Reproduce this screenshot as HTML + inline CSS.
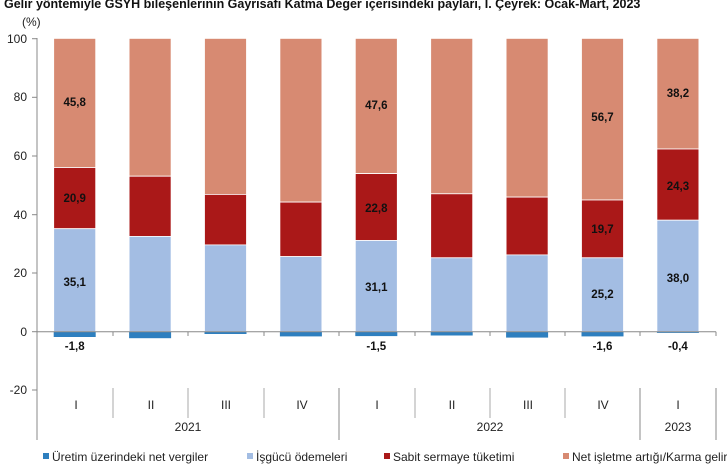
<!DOCTYPE html>
<html><head><meta charset="utf-8"><style>
html,body{margin:0;padding:0;background:#fff;width:727px;height:464px;overflow:hidden}
text{font-family:"Liberation Sans",Arial,sans-serif}
</style></head><body>
<svg width="727" height="464" viewBox="0 0 727 464" xmlns="http://www.w3.org/2000/svg">
<text x="4" y="8" font-size="12.5" font-weight="bold" fill="#111">Gelir yöntemiyle GSYH bileşenlerinin Gayrisafi Katma Değer içerisindeki payları, I. Çeyrek: Ocak-Mart, 2023</text>
<text x="22" y="26" font-size="12" fill="#222">(%)</text>
<g font-size="12" fill="#222" text-anchor="end">
<text x="27" y="43">100</text><text x="27" y="101">80</text><text x="27" y="160">60</text>
<text x="27" y="219">40</text><text x="27" y="277">20</text><text x="27" y="336">0</text><text x="27" y="394">-20</text>
</g>
<g stroke="#888" stroke-width="1">
<line x1="37" y1="38" x2="37" y2="440"/>
<line x1="32" y1="38.7" x2="37" y2="38.7"/><line x1="32" y1="97.3" x2="37" y2="97.3"/>
<line x1="32" y1="156" x2="37" y2="156"/><line x1="32" y1="214.7" x2="37" y2="214.7"/>
<line x1="32" y1="273" x2="37" y2="273"/><line x1="32" y1="331.7" x2="37" y2="331.7"/>
<line x1="32" y1="390" x2="37" y2="390"/>
<line x1="113" y1="388" x2="113" y2="418" stroke="#aaa"/><line x1="188" y1="388" x2="188" y2="418" stroke="#aaa"/>
<line x1="264" y1="388" x2="264" y2="418" stroke="#aaa"/><line x1="415" y1="388" x2="415" y2="418" stroke="#aaa"/>
<line x1="490" y1="388" x2="490" y2="418" stroke="#aaa"/><line x1="565" y1="388" x2="565" y2="418" stroke="#aaa"/>
<line x1="339" y1="388" x2="339" y2="440"/><line x1="640" y1="388" x2="640" y2="440"/>
<line x1="716" y1="388" x2="716" y2="440"/>
</g>
<g stroke="#fff" stroke-width="0.8">
<!-- bar1 -->
<rect x="53.7" y="38.4" width="42" height="129.1" fill="#D78A72"/>
<rect x="53.7" y="167.5" width="42" height="61.2" fill="#AA1818"/>
<rect x="53.7" y="228.7" width="42" height="103" fill="#A3BDE3"/>
<!-- bar2 -->
<rect x="129.1" y="38.4" width="42" height="137.8" fill="#D78A72"/>
<rect x="129.1" y="176.2" width="42" height="60.2" fill="#AA1818"/>
<rect x="129.1" y="236.4" width="42" height="95.3" fill="#A3BDE3"/>
<!-- bar3 -->
<rect x="204.5" y="38.4" width="42" height="156" fill="#D78A72"/>
<rect x="204.5" y="194.4" width="42" height="50.5" fill="#AA1818"/>
<rect x="204.5" y="244.9" width="42" height="86.8" fill="#A3BDE3"/>
<!-- bar4 -->
<rect x="279.9" y="38.4" width="42" height="163.7" fill="#D78A72"/>
<rect x="279.9" y="202.1" width="42" height="54.5" fill="#AA1818"/>
<rect x="279.9" y="256.6" width="42" height="75.1" fill="#A3BDE3"/>
<!-- bar5 -->
<rect x="355.3" y="38.4" width="42" height="135.2" fill="#D78A72"/>
<rect x="355.3" y="173.6" width="42" height="66.9" fill="#AA1818"/>
<rect x="355.3" y="240.5" width="42" height="91.2" fill="#A3BDE3"/>
<!-- bar6 -->
<rect x="430.7" y="38.4" width="42" height="155.4" fill="#D78A72"/>
<rect x="430.7" y="193.8" width="42" height="64" fill="#AA1818"/>
<rect x="430.7" y="257.8" width="42" height="73.9" fill="#A3BDE3"/>
<!-- bar7 -->
<rect x="506.1" y="38.4" width="42" height="158.7" fill="#D78A72"/>
<rect x="506.1" y="197.1" width="42" height="57.8" fill="#AA1818"/>
<rect x="506.1" y="254.9" width="42" height="76.8" fill="#A3BDE3"/>
<!-- bar8 -->
<rect x="581.5" y="38.4" width="42" height="161.6" fill="#D78A72"/>
<rect x="581.5" y="200" width="42" height="57.8" fill="#AA1818"/>
<rect x="581.5" y="257.8" width="42" height="73.9" fill="#A3BDE3"/>
<!-- bar9 -->
<rect x="656.9" y="38.4" width="42" height="110.6" fill="#D78A72"/>
<rect x="656.9" y="149" width="42" height="71.2" fill="#AA1818"/>
<rect x="656.9" y="220.2" width="42" height="111.5" fill="#A3BDE3"/>
</g>
<g fill="#2E7FBF">
<rect x="53.7" y="331.7" width="42" height="5.3"/>
<rect x="129.1" y="331.7" width="42" height="6.5"/>
<rect x="204.5" y="331.7" width="42" height="2.3"/>
<rect x="279.9" y="331.7" width="42" height="4.7"/>
<rect x="355.3" y="331.7" width="42" height="4.4"/>
<rect x="430.7" y="331.7" width="42" height="3.8"/>
<rect x="506.1" y="331.7" width="42" height="5.9"/>
<rect x="581.5" y="331.7" width="42" height="4.7"/>
<rect x="656.9" y="331.7" width="42" height="1.2"/>
</g>
<g stroke="#888" stroke-width="1">
<line x1="37" y1="331.7" x2="716" y2="331.7"/>
<line x1="113" y1="331.7" x2="113" y2="336"/><line x1="188" y1="331.7" x2="188" y2="336"/>
<line x1="264" y1="331.7" x2="264" y2="336"/><line x1="339" y1="331.7" x2="339" y2="336"/>
<line x1="415" y1="331.7" x2="415" y2="336"/><line x1="490" y1="331.7" x2="490" y2="336"/>
<line x1="565" y1="331.7" x2="565" y2="336"/><line x1="640" y1="331.7" x2="640" y2="336"/>
<line x1="716" y1="331.7" x2="716" y2="336"/>
</g>
<g font-size="11.5" font-weight="bold" fill="#111" text-anchor="middle">
<text x="74.7" y="106">45,8</text><text x="74.7" y="202">20,9</text><text x="74.7" y="286">35,1</text><text x="74.7" y="350">-1,8</text>
<text x="376.3" y="109">47,6</text><text x="376.3" y="212">22,8</text><text x="376.3" y="291">31,1</text><text x="376.3" y="350">-1,5</text>
<text x="602.5" y="121">56,7</text><text x="602.5" y="233">19,7</text><text x="602.5" y="298">25,2</text><text x="602.5" y="350">-1,6</text>
<text x="677.9" y="97">38,2</text><text x="677.9" y="190">24,3</text><text x="677.9" y="282">38,0</text><text x="677.9" y="350">-0,4</text>
</g>
<g font-size="12" fill="#222" text-anchor="middle">
<text x="76" y="409">I</text><text x="151" y="409">II</text><text x="226" y="409">III</text><text x="302" y="409">IV</text>
<text x="377" y="409">I</text><text x="452" y="409">II</text><text x="528" y="409">III</text><text x="603" y="409">IV</text><text x="678" y="409">I</text>
<text x="188" y="431">2021</text><text x="490" y="431">2022</text><text x="678" y="431">2023</text>
</g>
<g font-size="12" fill="#222">
<rect x="43" y="453" width="6" height="6" fill="#2E7FBF"/><text x="52" y="461">Üretim üzerindeki net vergiler</text>
<rect x="247" y="453" width="6" height="6" fill="#A3BDE3"/><text x="256" y="461">İşgücü ödemeleri</text>
<rect x="384" y="453" width="6" height="6" fill="#AA1818"/><text x="393" y="461">Sabit sermaye tüketimi</text>
<rect x="563" y="453" width="6" height="6" fill="#D78A72"/><text x="572" y="461">Net işletme artığı/Karma gelir</text>
</g>
</svg>
</body></html>
